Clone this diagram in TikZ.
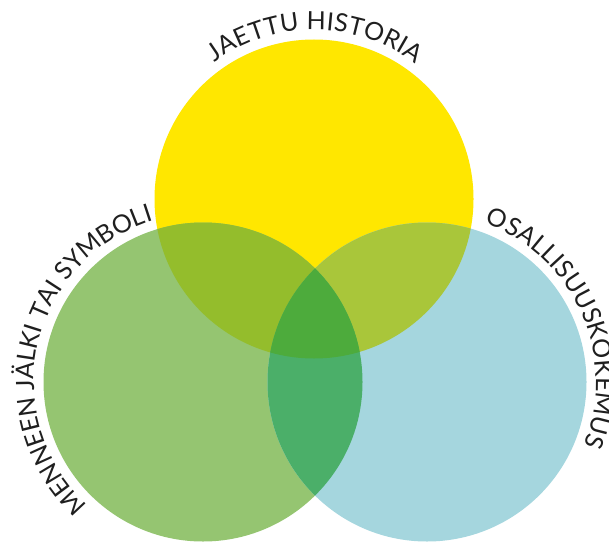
\documentclass[tikz,border=0pt]{standalone}
\usepackage{fontspec}
\setmainfont{Lato}
\usetikzlibrary{decorations.text}

\definecolor{ycol}{HTML}{FFE700}
\definecolor{gcol}{HTML}{95C571}
\definecolor{bcol}{HTML}{A5D6DE}
\definecolor{ygcol}{HTML}{94BD2C}
\definecolor{ybcol}{HTML}{A9C63A}
\definecolor{gbcol}{HTML}{4BAF69}
\definecolor{ygbcol}{HTML}{4DAB3C}

\begin{document}
\begin{tikzpicture}[x=1pt,y=1pt]
    \tikzstyle{label arc}=[decorate,decoration={text along path,text align=fit to path,
        text color=black!88}]
    \def\rad{159.5}
    \def\textrad{169}
    \def\lbl{\fontsize{25}{25}\selectfont}
    \useasboundingbox (0,0) rectangle (609,542);

    % Centres of the three circles
    \coordinate (Y) at (314,343);
    \coordinate (G) at (203,160);
    \coordinate (B) at (427,160);

    % Draw the circles
    \foreach \name/\col in {Y/ycol,G/gcol,B/bcol}
        \fill[\col] (\name) circle[radius=\rad];

    % Overlap of every pair of circles
    \foreach \a/\b/\col in {Y/G/ygcol,Y/B/ybcol,G/B/gbcol}
    {
        \begin{scope}
            \clip (\a) circle[radius=\rad];
            \fill[\col] (\b) circle[radius=\rad];
        \end{scope}
    }

    % Overlap of all three circles
    \begin{scope}
        \clip (Y) circle[radius=\rad];
        \clip (G) circle[radius=\rad];
        \fill[ygbcol] (B) circle[radius=\rad];
    \end{scope}

    % Labels round the circles
    \path[label arc,decoration={text={|\lbl|JAETTU HISTORIA}}]
        (Y) ++(126:\textrad) arc[start angle=126,end angle=53,radius=\textrad];
    \path[label arc,decoration={text={|\lbl|MENNEEN JÄLKI TAI SYMBOLI}}]
        (G) ++(227:\textrad) arc[start angle=227,end angle=107,radius=\textrad];
    \path[label arc,decoration={text={|\lbl|OSALLISUUSKOKEMUS}}]
        (B) ++(70:\textrad) arc[start angle=70,end angle=-22,radius=\textrad];

\end{tikzpicture}
\end{document}
